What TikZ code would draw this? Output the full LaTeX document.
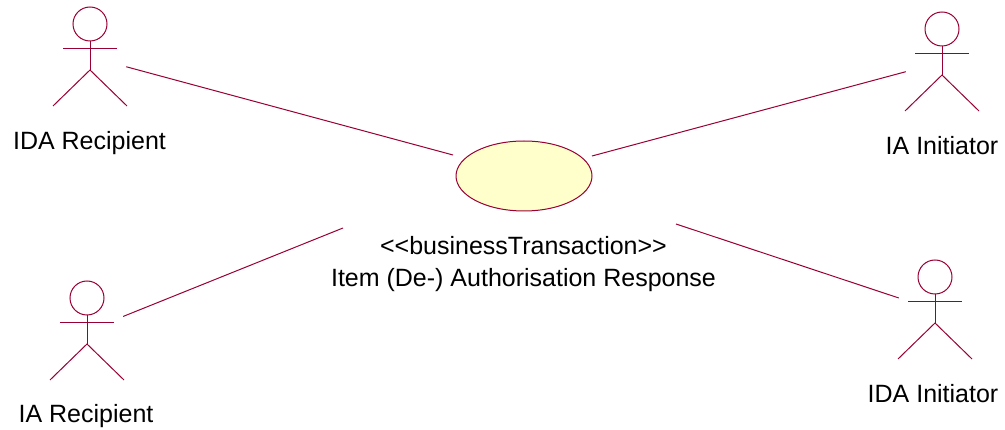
\documentclass[tikz,border=0pt]{standalone}
\usepackage{fontspec}
\setmainfont{Liberation Sans}
\usetikzlibrary{shapes.geometric}

\definecolor{roseline}{RGB}{153,0,51}
\definecolor{rosefill}{RGB}{255,255,204}

\tikzset{
  umlline/.style={draw=roseline,line width=1pt},
  actorbox/.style={rectangle,minimum width=72pt,minimum height=100pt,inner sep=0pt},
  usecase/.style={ellipse,draw=roseline,fill=rosefill,line width=1pt,minimum width=136pt,minimum height=70pt,inner sep=0pt},
  biglabel/.style={inner sep=0pt,font=\fontsize{25}{32}\selectfont},
}

% stick figure: name, x and y of the head centre
\newcommand{\umlactor}[3]{%
  \node[actorbox] (#1) at (#2,#3+33) {};
  \draw[umlline] (#2,#3) circle (17pt);
  \draw[umlline] (#2,#3+17) -- (#2,#3+46);
  \draw[umlline] (#2-27,#3+25) -- (#2+27,#3+25);
  \draw[umlline] (#2-37,#3+82) -- (#2,#3+46) -- (#2+37,#3+82);
}

\begin{document}
\begin{tikzpicture}[x=1pt,y=-1pt]
                    \useasboundingbox (0,0) rectangle (1005,430);

                    \umlactor{idarec}{90}{24}
                    \umlactor{iainit}{942}{29}
                    \umlactor{iarec}{87}{298}
                    \umlactor{idainit}{935}{277}

                    \node[biglabel,anchor=base] (idareclabel) at (89.5,150) {IDA Recipient};
                    \node[biglabel,anchor=base] (iainitlabel) at (942,155) {IA Initiator};
                    \node[biglabel,anchor=base] (iareclabel) at (86,423) {IA Recipient};
                    \node[biglabel,anchor=base] (idainitlabel) at (933,403) {IDA Initiator};

                    \node[usecase] (uc) at (524,176) {};
                    \node[biglabel,align=center] (uclabel) at (523.5,264.5) {{<}{<}businessTransaction{>}{>}\\Item (De-) Authorisation Response};

                    \coordinate (ucw) at (453,155);
                    \coordinate (uce) at (592,156);
                    \coordinate (ucsw) at (343,228);
                    \coordinate (ucse) at (676,224);

                    \draw[umlline] (idarec) -- (ucw);
                    \draw[umlline] (iainit) -- (uce);
                    \draw[umlline] (iarec) -- (ucsw);
                    \draw[umlline] (idainit) -- (ucse);
                \end{tikzpicture}
\end{document}
